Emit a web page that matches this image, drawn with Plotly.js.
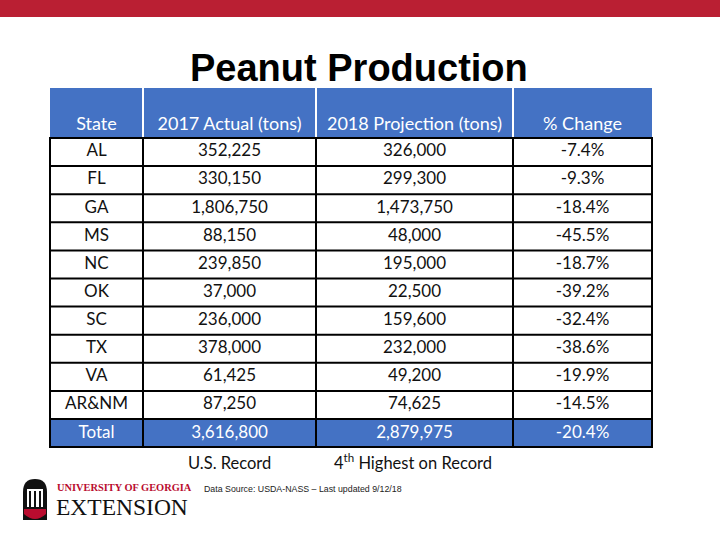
<!DOCTYPE html>
<html>
<head>
<meta charset="utf-8">
<script src="https://cdn.plot.ly/plotly-3.0.1.min.js"></script>
<style>html,body{margin:0;padding:0;background:#fff;}#chart{width:720px;height:540px;}</style>
</head>
<body>
<div id="chart"></div>
<script>
const headers = ['State', '2017 Actual (tons)', '2018 Projection (tons)', '% Change'];
const states = ['AL', 'FL', 'GA', 'MS', 'NC', 'OK', 'SC', 'TX', 'VA', 'AR&NM', 'Total'];
const actual2017 = [352225, 330150, 1806750, 88150, 239850, 37000, 236000, 378000, 61425, 87250, 3616800];
const proj2018 = [326000, 299300, 1473750, 48000, 195000, 22500, 159600, 232000, 49200, 74625, 2879975];
const pctChange = [-7.4, -9.3, -18.4, -45.5, -18.7, -39.2, -32.4, -38.6, -19.9, -14.5, -20.4];
const notes = ['U.S. Record', '4<sup>th</sup> Highest on Record'];
const sourceText = 'Data Source: USDA-NASS \u2013 Last updated 9/12/18';

// layout geometry (pixels in a 720x540 frame)
const W = 720, H = 540;
const colEdges = [50, 143, 316, 513, 652];
const headTop = 88, headBot = 138, rowH = 28.1;
const BLUE = '#4472C4';

const px = x => x / W;
const py = y => 1 - y / H;
const fmt = v => v.toLocaleString('en-US');

const n = states.length;
const colCenters = colEdges.slice(0, -1).map((e, i) => (e + colEdges[i + 1]) / 2);
const rowCenter = i => headBot + rowH * (i + 0.5);
const bodyBot = headBot + rowH * n;

const columns = [
  states,
  actual2017.map(fmt),
  proj2018.map(fmt),
  pctChange.map(v => v.toFixed(1) + '%')
];

const traces = [];
// header text
traces.push({
  type: 'scatter', mode: 'text',
  x: colCenters, y: colCenters.map(() => 125),
  text: headers,
  textposition: 'middle center',
  textfont: {family: 'Lato, sans-serif', size: 18, color: '#ffffff'},
  hoverinfo: 'skip', cliponaxis: false, showlegend: false
});
// body text, one trace per column
columns.forEach((vals, c) => {
  traces.push({
    type: 'scatter', mode: 'text',
    x: vals.map(() => colCenters[c]),
    y: vals.map((v, i) => rowCenter(i) + (i === n - 1 ? 1 : 0)),
    text: vals,
    textposition: 'middle center',
    textfont: {family: 'Lato, sans-serif', size: 17,
      color: vals.map((v, i) => i === n - 1 ? '#ffffff' : '#111111')},
    hoverinfo: 'skip', cliponaxis: false, showlegend: false
  });
});

const shapes = [];
const S = (o) => Object.assign({xref: 'x', yref: 'y'}, o);
// header cells
for (let c = 0; c < 4; c++) {
  shapes.push(S({type: 'rect', x0: colEdges[c] + (c ? 1 : 0), x1: colEdges[c + 1] - (c < 3 ? 1 : 0),
    y0: headTop, y1: headBot, fillcolor: BLUE, line: {width: 0}, layer: 'below'}));
}
// total row fill
shapes.push(S({type: 'rect', x0: colEdges[0], x1: colEdges[4], y0: bodyBot - rowH, y1: bodyBot,
  fillcolor: BLUE, line: {width: 0}, layer: 'below'}));
// horizontal grid lines
for (let r = 0; r <= n; r++) {
  const y = headBot + rowH * r;
  shapes.push(S({type: 'line', x0: colEdges[0] - 1, x1: colEdges[4] + 1, y0: y, y1: y,
    line: {color: '#000000', width: 2}}));
}
// vertical grid lines
colEdges.forEach(x => {
  shapes.push(S({type: 'line', x0: x, x1: x, y0: headBot, y1: bodyBot, line: {color: '#000000', width: 2}}));
});
// top band
shapes.push({type: 'rect', xref: 'paper', yref: 'paper', x0: 0, x1: 1, y0: py(17), y1: 1, fillcolor: '#BA1F33', line: {width: 0}});
// logo arch
shapes.push({type: 'path', xref: 'paper', yref: 'paper',
  path: `M ${px(23)} ${py(520)} L ${px(23)} ${py(492)} Q ${px(23)} ${py(479)} ${px(35)} ${py(479)} Q ${px(47)} ${py(479)} ${px(47)} ${py(492)} L ${px(47)} ${py(520)} Z`,
  fillcolor: '#111111', line: {width: 0}});
shapes.push({type: 'rect', xref: 'paper', yref: 'paper', x0: px(27), x1: px(43), y0: py(507), y1: py(489), fillcolor: '#ffffff', line: {width: 0}});
[29, 34, 39].forEach(x => shapes.push({type: 'rect', xref: 'paper', yref: 'paper', x0: px(x), x1: px(x + 2), y0: py(507), y1: py(491), fillcolor: '#111111', line: {width: 0}}));
shapes.push({type: 'path', xref: 'paper', yref: 'paper',
  path: `M ${px(24)} ${py(509)} L ${px(46)} ${py(509)} L ${px(46)} ${py(514)} Q ${px(35)} ${py(524)} ${px(24)} ${py(514)} Z`,
  fillcolor: '#BA0C2F', line: {width: 0}});

const annotations = [
  {text: '<b>Peanut Production</b>', x: px(359), y: py(68), xref: 'paper', yref: 'paper', showarrow: false,
   xanchor: 'center', yanchor: 'middle', font: {family: '"Liberation Sans", Arial, sans-serif', size: 38, color: '#000000'}},
  {text: notes[0], x: colCenters[1], y: 463, xref: 'x', yref: 'y', showarrow: false,
   xanchor: 'center', yanchor: 'middle', font: {family: 'Lato, sans-serif', size: 16.5, color: '#111111'}},
  {text: notes[1], x: colCenters[2] - 2, y: 462, xref: 'x', yref: 'y', showarrow: false,
   xanchor: 'center', yanchor: 'middle', font: {family: 'Lato, sans-serif', size: 16.5, color: '#111111'}},
  {text: sourceText, x: px(202), y: py(489), xref: 'paper', yref: 'paper', showarrow: false,
   xanchor: 'left', yanchor: 'middle', font: {family: '"Liberation Sans", sans-serif', size: 8.8, color: '#222222'}},
  {text: '<b>UNIVERSITY OF GEORGIA</b>', x: px(55), y: py(487), xref: 'paper', yref: 'paper', showarrow: false,
   xanchor: 'left', yanchor: 'middle', font: {family: '"Liberation Serif", serif', size: 10.4, color: '#BA0C2F'}},
  {text: 'EXTENSION', x: px(54), y: py(507), xref: 'paper', yref: 'paper', showarrow: false,
   xanchor: 'left', yanchor: 'middle', font: {family: '"Liberation Serif", serif', size: 23.5, color: '#111111'}}
];

const layout = {
  width: W, height: H,
  margin: {l: 0, r: 0, t: 0, b: 0},
  paper_bgcolor: '#ffffff',
  plot_bgcolor: 'rgba(0,0,0,0)',
  showlegend: false,
  xaxis: {range: [0, W], visible: false, fixedrange: true},
  yaxis: {range: [H, 0], visible: false, fixedrange: true},
  shapes: shapes,
  annotations: annotations
};

Plotly.newPlot('chart', traces, layout, {displayModeBar: false, staticPlot: true});
</script>
</body>
</html>
